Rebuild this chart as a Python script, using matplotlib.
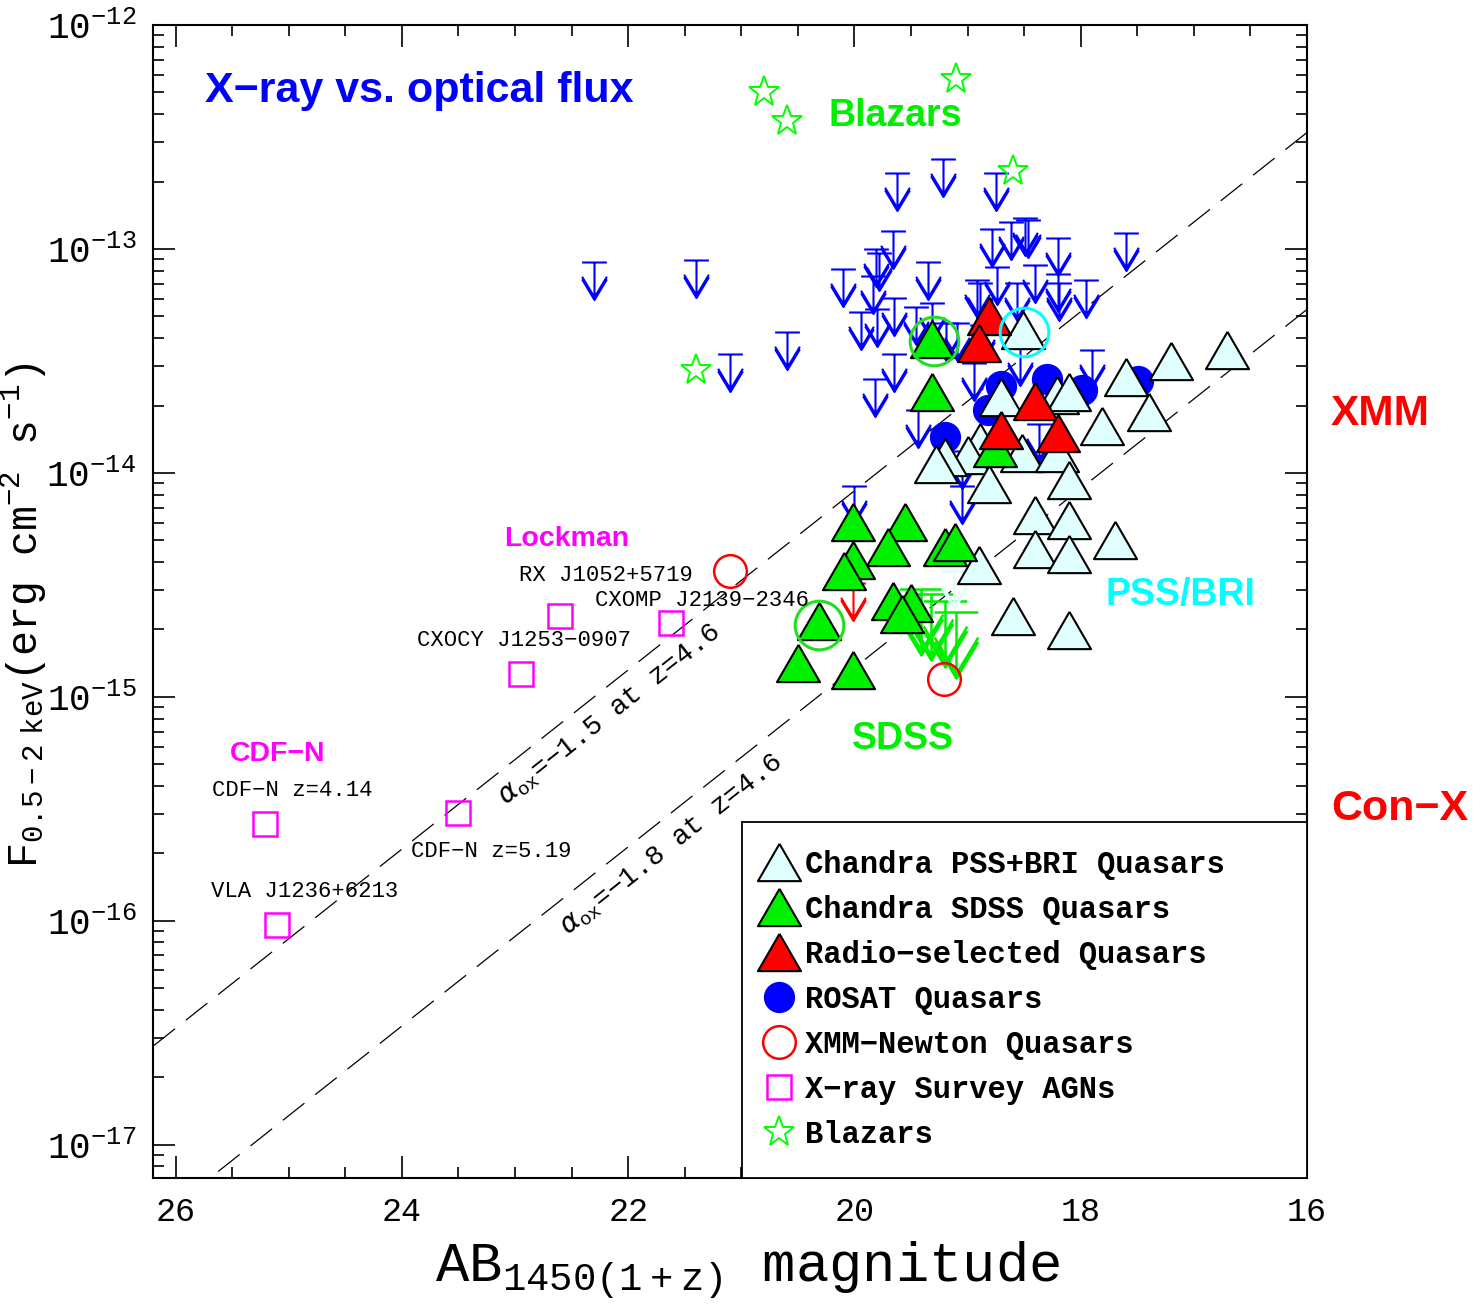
import numpy as np
import matplotlib
matplotlib.use('Agg')
import matplotlib.pyplot as plt
from matplotlib.path import Path
from matplotlib.ticker import MultipleLocator, FixedLocator, FuncFormatter, NullFormatter

MONO = 'Liberation Mono'
SANS = 'Liberation Sans'

# ---- data: AB_1450(1+z) magnitude, log10 F(0.5-2 keV) ----
# Chandra PSS+BRI quasars
pss_mag = [18.51, 16.71, 17.20, 17.60, 17.40, 17.81, 18.70, 18.21, 18.10, 18.89,
           19.00, 19.20, 19.28, 18.52, 18.21, 18.81, 18.10, 18.40, 18.10, 18.40,
           18.10, 17.70, 18.90, 18.60, 18.10]
pss_logf = [-13.36, -13.45, -13.50, -13.57, -13.73, -13.79, -13.66, -13.65, -13.64, -13.86,
            -13.92, -13.93, -13.96, -13.91, -13.91, -14.05, -14.03, -14.19, -14.21, -14.34,
            -14.36, -14.30, -14.41, -14.64, -14.70]
# Chandra SDSS quasars
sdss_mag = [18.76, 19.31, 19.31, 20.01, 19.55, 19.70, 20.01, 20.09, 19.20, 19.11,
            19.66, 19.50, 19.58, 20.31, 20.50, 20.01]
sdss_logf = [-13.89, -13.40, -13.64, -14.22, -14.22, -14.33, -14.39, -14.44, -14.33, -14.31,
             -14.57, -14.58, -14.63, -14.66, -14.85, -14.88]
# radio-selected quasars
radio_mag = [18.81, 18.90, 18.40, 18.70, 18.20]
radio_logf = [-13.30, -13.42, -13.68, -13.81, -13.82]
# ROSAT quasars (detections)
rosat_mag = [18.70, 18.30, 17.99, 18.82, 19.20, 17.49]
rosat_logf = [-13.61, -13.58, -13.63, -13.72, -13.84, -13.59]
# ROSAT upper limits
rlim_mag = [22.30, 21.40, 20.60, 21.10, 19.62, 19.22, 18.75, 20.10, 19.66, 19.81,
            19.78, 19.84, 19.35, 18.78, 18.62, 18.49, 18.47, 19.65, 19.80, 19.94,
            19.46, 19.31, 18.92, 18.89, 18.74, 18.40, 19.65, 19.82, 18.20, 18.20,
            18.19, 17.95, 17.60, 18.56, 17.90, 19.19, 19.09, 18.87, 18.54, 18.94,
            19.44, 19.05, 19.05, 18.37, 20.00]
rlim_logf = [-13.06, -13.05, -13.37, -13.47, -12.66, -12.60, -12.66, -13.09, -12.92, -13.00,
             -13.02, -13.12, -13.06, -12.91, -12.88, -12.86, -12.87, -13.22, -13.27, -13.28,
             -13.26, -13.24, -13.14, -13.15, -13.08, -13.07, -13.47, -13.58, -12.95, -13.11,
             -13.15, -13.14, -12.93, -13.15, -13.45, -13.33, -13.33, -13.34, -13.44, -13.51,
             -13.72, -13.90, -14.06, -13.78, -14.06]
# SDSS upper limits
slim_mag = [19.41, 19.32, 19.20, 19.10]
slim_logf = [-14.52, -14.54, -14.57, -14.62]
# PSS upper limit, XMM upper limit
plim_mag, plim_logf = [19.12], [-14.44]
xlim_mag, xlim_logf = [20.01], [-14.49]
# XMM-Newton quasars
xmm_mag = [21.10, 19.21]
xmm_logf = [-14.44, -14.92]
# X-ray survey AGNs
agn_mag = [22.60, 21.62, 22.95, 23.50, 25.21, 25.10]
agn_logf = [-14.64, -14.67, -14.90, -15.52, -15.57, -16.02]
agn_names = ['RX J1052+5719', 'CXOMP J2139\u22122346', 'CXOCY J1253\u22120907',
             'CDF\u2212N z=5.19', 'CDF\u2212N z=4.14', 'VLA J1236+6213']
name_mag = [22.20, 21.35, 22.92, 23.21, 24.97, 24.86]
name_logf = [-14.46, -14.57, -14.75, -15.69, -15.42, -15.87]
# blazars
blz_mag = [20.80, 20.60, 19.10, 18.60, 21.40]
blz_logf = [-12.30, -12.43, -12.24, -12.65, -13.54]
# circled objects
ring_mag = [19.30, 20.31, 18.50]
ring_logf = [-13.41, -14.68, -13.37]
ring_col = ['#22dd22', '#22dd22', '#00ffff']
# alpha_ox lines (log flux at m=16 and m=26.2)
line_mag = [16.0, 26.2]
line15_logf = [-12.48, -16.56]
line18_logf = [-13.27, -17.35]
# y axis decades shown
decades = [-17, -16, -15, -14, -13, -12]

def flux(lf):
    return 10 ** np.asarray(lf, dtype=float)

# upper-limit symbol: bar at the value, arrow pointing down
lim_path = Path([(-0.33, 0), (0.33, 0), (0, 0), (0, -1),
                 (-0.33, -0.45), (0, -1), (0.33, -0.45),
                 (-0.33, -0.38), (0, -0.93), (0.33, -0.38)],
                [Path.MOVETO, Path.LINETO, Path.MOVETO, Path.LINETO,
                 Path.MOVETO, Path.LINETO, Path.LINETO,
                 Path.MOVETO, Path.LINETO, Path.LINETO])
tri = [(0, 0.433), (-0.5, -0.433), (0.5, -0.433), (0, 0.433)]

fig = plt.figure(figsize=(14.84, 13.05), dpi=100)
ax = fig.add_axes([0.1031, 0.0973, 0.7776, 0.8835])
ax.set_yscale('log')
ax.set_xlim(26.2, 16)
ax.set_ylim(7.1e-18, 1e-12)

# alpha_ox lines
ax.plot(line_mag, flux(line15_logf), color='black', lw=0.9, dashes=(22, 11), zorder=1)
ax.plot(line_mag, flux(line18_logf), color='black', lw=0.9, dashes=(22, 11), zorder=1)

lim_kw = dict(ls='none', marker=lim_path, mfc='none')
ax.plot(rlim_mag, flux(rlim_logf), ms=54, mec='#0000ff', mew=1.5, zorder=2, **lim_kw)
ax.plot(slim_mag, flux(slim_logf), ms=95, mec='#00ee00', mew=1.8, zorder=2, **lim_kw)
ax.plot(plim_mag, flux(plim_logf), ms=54, mec='#e0ffff', mew=1.8, zorder=2, **lim_kw)
ax.plot(xlim_mag, flux(xlim_logf), ms=54, mec='#ff0000', mew=1.5, zorder=2, **lim_kw)

h_rosat, = ax.plot(rosat_mag, flux(rosat_logf), ls='none', marker='o', ms=21.5,
                   mfc='#0000ff', mec='#0000ff', mew=1, zorder=3, label='ROSAT Quasars')
h_pss, = ax.plot(pss_mag, flux(pss_logf), ls='none', marker=tri, ms=31,
                 mfc='#e0ffff', mec='black', mew=1.5, zorder=4,
                 label='Chandra PSS+BRI Quasars')
h_sdss, = ax.plot(sdss_mag, flux(sdss_logf), ls='none', marker=tri, ms=31,
                  mfc='#00f000', mec='black', mew=1.5, zorder=4,
                  label='Chandra SDSS Quasars')
h_radio, = ax.plot(radio_mag, flux(radio_logf), ls='none', marker=tri, ms=31,
                   mfc='#ff0000', mec='black', mew=1.5, zorder=5,
                   label='Radio\u2212selected Quasars')
h_xmm, = ax.plot(xmm_mag, flux(xmm_logf), ls='none', marker='o', ms=23.5,
                 mfc='none', mec='#ff0000', mew=1.8, zorder=5, label='XMM\u2212Newton Quasars')
h_agn, = ax.plot(agn_mag, flux(agn_logf), ls='none', marker='s', ms=17.5,
                 mfc='none', mec='#ff00ff', mew=1.8, zorder=5, label='X\u2212ray Survey AGNs')
h_blz, = ax.plot(blz_mag, flux(blz_logf), ls='none', marker='*', ms=23,
                 mfc='none', mec='#00ff00', mew=1.4, zorder=5, label='Blazars')
for m, lf, c in zip(ring_mag, ring_logf, ring_col):
    ax.plot([m], flux([lf]), ls='none', marker='o', ms=35, mfc='none', mec=c, mew=2.2, zorder=6)

# object names
for name, m, lf in zip(agn_names, name_mag, name_logf):
    ax.text(m, 10 ** lf, name, family=MONO, fontsize=16, ha='center', va='center', zorder=7)

# alpha_ox labels, rotated along the lines
p0 = ax.transData.transform((26.0, 10 ** -16.48))
p1 = ax.transData.transform((16.0, 10 ** -12.48))
ang = np.degrees(np.arctan2(p1[1] - p0[1], p1[0] - p0[0]))
ax.text(22.16, 10 ** -15.08, r'$\alpha_{\mathregular{ox}}$=' + '\u22121.5 at z=4.6',
        family=MONO, fontsize=20, rotation=ang, ha='center', va='center')
ax.text(21.61, 10 ** -15.66, r'$\alpha_{\mathregular{ox}}$=' + '\u22121.8 at z=4.6',
        family=MONO, fontsize=20, rotation=ang, ha='center', va='center')

# group labels
bold = dict(family=SANS, fontweight='bold', va='center', ha='center')
ax.text(25.74, 5.08e-13, 'X\u2212ray vs. optical flux', color='#0000ff', fontsize=31,
        **{**bold, 'ha': 'left'})
ax.text(19.64, 3.93e-13, 'Blazars', color='#00ee00', fontsize=27, **bold)
ax.text(19.57, 6.47e-16, 'SDSS', color='#00ee00', fontsize=27, **bold)
ax.text(17.12, 2.84e-15, 'PSS/BRI', color='#00ffff', fontsize=27, **bold)
ax.text(22.54, 5.09e-15, 'Lockman', color='#ff00ff', fontsize=20.5, **bold)
ax.text(25.10, 5.55e-16, 'CDF\u2212N', color='#ff00ff', fontsize=20.5, **bold)
ax.text(15.35, 1.84e-14, 'XMM', color='#ff0000', fontsize=30.5, clip_on=False, **bold)
ax.text(15.18, 3.15e-16, 'Con\u2212X', color='#ff0000', fontsize=31, clip_on=False, **bold)

# axes style
ax.xaxis.set_major_locator(MultipleLocator(2))
ax.xaxis.set_minor_locator(MultipleLocator(0.5))
ax.yaxis.set_major_locator(FixedLocator(flux(decades)))
minor = [k * 10.0 ** d for d in [-18] + decades[:-1] for k in range(2, 10)]
ax.yaxis.set_minor_locator(FixedLocator([v for v in minor if v > 7.1e-18]))
ax.yaxis.set_minor_formatter(NullFormatter())
ax.yaxis.set_major_formatter(FuncFormatter(
    lambda v, pos: r'$\mathregular{10^{%d}}$' % int(round(np.log10(v)))))
ax.xaxis.set_major_formatter(FuncFormatter(lambda v, pos: '%d' % v))
ax.tick_params(which='both', direction='in', top=True, right=True, width=1.2)
ax.tick_params(which='major', length=16)
ax.tick_params(which='minor', length=8)
ax.tick_params(axis='x', labelsize=24, pad=14, labelfontfamily=MONO)
ax.tick_params(axis='y', labelsize=26, pad=12, labelfontfamily=MONO)
for s in ax.spines.values():
    s.set_linewidth(1.5)

ax.set_xlabel(r'AB$_{\mathregular{1450(1+z)}}$ magnitude', family=MONO, fontsize=40, va='center')
ax.xaxis.set_label_coords(0.5156, -0.0798)
ax.set_ylabel(r'F$_{\mathregular{0.5-2\ keV}}$(erg cm$^{\mathregular{-2}}$ s$^{\mathregular{-1}}$)',
              family=MONO, fontsize=30, va='center')
ax.yaxis.set_label_coords(-0.1115, 0.488)

leg = ax.legend(handles=[h_pss, h_sdss, h_radio, h_rosat, h_xmm, h_agn, h_blz],
                loc='lower left', bbox_to_anchor=(0.5104, 0.0, 0.4896, 0.3), mode='expand',
                borderaxespad=0, fancybox=False, framealpha=1, edgecolor='black',
                prop={'family': MONO, 'weight': 'bold', 'size': 22},
                handlelength=0.6, handletextpad=0.55, labelspacing=0.49, borderpad=0.92,
                numpoints=1)
leg.get_frame().set_linewidth(1.3)
leg.set_zorder(10)

fig.savefig('out.png', dpi=100, facecolor='white')
